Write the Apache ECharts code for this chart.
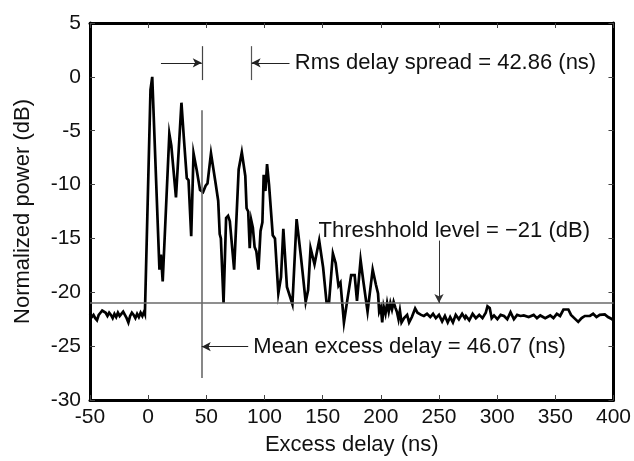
<!DOCTYPE html>
<html>
<head>
<meta charset="utf-8">
<script src="https://cdn.jsdelivr.net/npm/echarts@6/dist/echarts.min.js"></script>
<style>
  html, body { margin: 0; padding: 0; background: #fff; }
  #chart { width: 634px; height: 461px; }
</style>
</head>
<body>
<div id="chart"></div>
<script>
// ---- Data ----
const delayNs = [
  -50, -48.5, -47, -45.5, -44, -42.5, -41, -39.5, -38, -36.5, -35, -33.5, -32, -30.5, -29, -27.5, -26, -24.5, -23, -21.5,
  -20, -18.5, -17, -15.5, -14, -12.5, -11, -9.5, -8, -6.5, -5, -3.5, -2.8,
  2.0, 3.5, 5.0, 9.7, 11.0, 12.5, 18.2, 19.9, 23.9, 28.6, 30.7, 33.2, 34.7, 37.0, 39.0, 41.8, 44.6, 47.2, 49.4, 51.0,
  54.0, 58.0, 60.2, 61.5, 62.5, 64.8, 67.0, 68.7, 70.2, 73.9, 77.8, 80.5, 83.5, 84.6, 86.0, 87.3, 88.6, 90.0, 91.5,
  93.0, 94.8, 96.6, 98.2, 99.3, 100.8, 102.2, 103.9, 107.1, 109.0, 111.9, 114.2, 116.2, 119.3, 124.0, 127.6, 131.2,
  132.8, 135.4, 137.5, 139.6, 143.0, 147.0, 150.4, 153.3, 155.5, 158.8, 161.2, 163.6, 165.3, 168.3, 171.5, 174.5,
  177.5, 179.5, 182.6, 185.0, 188.6, 193.0, 195.8, 197.6, 198.6, 200.0, 201.2, 202.4, 204.0, 205.4, 206.8, 208.2,
  209.6, 211.0, 212.4, 213.8, 215.2, 216.4, 217.8, 220.0, 222.6, 224.3, 226.7, 229.5, 231.5, 234.6, 237.0, 239.7,
  242.5, 244.9, 247.3, 250.0, 252.7, 255.1, 257.5, 259.6, 262.0, 264.4, 267.1, 269.9, 272.3, 273.2, 276, 278.9,
  281.7, 284.6, 287.4, 290.2, 291.7, 293.6, 295.3, 297.3, 300.2, 303, 305.9, 308.7, 311.5, 314.4, 317.2, 320.1,
  322.9, 327.1, 331.4, 334.2, 337.1, 341.3, 345.6, 348.4, 351.3, 354.1, 357, 358.4, 361.2, 363.5, 366.3, 369.7,
  372.6, 375.4, 379.7, 382.5, 385.4, 388.2, 392.5, 395.3, 398.1, 400
];
const powerDb = [
  -22.0, -22.3, -22.1, -22.4, -22.6, -22.1, -21.9, -21.7, -21.6, -21.9, -22.2, -21.9, -22.1, -22.4, -22.0, -22.3, -21.9, -22.2, -22.0, -21.8,
  -22.1, -22.4, -22.8, -22.2, -21.9, -22.1, -22.4, -22.0, -22.3, -21.9, -22.2, -21.8, -22.0,
  -1.2, 0.0, -0.1, -17.9, -16.5, -19.0, -5.3, -6.4, -11.2, -2.4, -5.7, -9.4, -9.6, -14.8, -7.1, -8.7, -10.5, -10.7, -10.1, -9.9,
  -7.1, -9.9, -11.5, -14.6, -15.0, -21.0, -13.1, -12.9, -13.4, -17.9, -8.6, -7.0, -9.2, -12.2, -12.5, -15.9, -13.3, -14.0, -15.8,
  -16.2, -17.9, -14.3, -13.5, -9.1, -10.6, -8.1, -10.0, -14.7, -15.0, -20.1, -18.6, -14.1, -19.5, -21.1, -13.2, -16.6,
  -18.2, -20.9, -19.8, -15.9, -17.4, -15.2, -17.7, -20.9, -20.9, -16.4, -17.3, -19.4, -19.1, -22.8, -20.5, -18.4,
  -18.4, -20.8, -17.0, -19.0, -21.8, -17.9, -19.3, -20.1, -21.8, -21.4, -22.8, -21.3, -22.0, -21.0, -21.8, -21.0,
  -21.6, -20.9, -21.4, -21.8, -22.5, -21.7, -22.8, -22.4, -22.1, -22.8, -22.3, -21.5, -21.9, -22.1, -22.2, -22.0,
  -22.3, -22.0, -22.4, -22.1, -22.7, -22.2, -22.8, -22.3, -22.8, -22.1, -22.5, -22.0, -22.4, -22.2, -22.6, -22.0,
  -22.4, -22.1, -22.4, -21.9, -21.3, -21.45, -22.4, -22.15, -22.5, -22.1, -22.2, -22.5, -21.85, -22.5, -22.1, -22.2,
  -22.15, -22.3, -22.1, -22.4, -22.15, -22.4, -22.15, -22.4, -22.0, -22.2, -21.6, -21.55, -21.6, -22.1, -22.4, -22.75,
  -22.4, -22.2, -22.2, -22.0, -22.3, -22.1, -22.05, -22.3, -22.45, -22.6
];
const xTicks = { min: -50, max: 400, step: 50 };
const yTicks = { min: -30, max: 5, step: 5 };
const thresholdDb = -21;
const meanExcessDelay = 46.07;
const rmsDelaySpread = 42.86;
const labels = {
  rms: 'Rms delay spread = 42.86 (ns)',
  threshold: 'Threshhold level = \u221221 (dB)',
  mean: 'Mean excess delay = 46.07 (ns)',
  xName: 'Excess delay (ns)',
  yName: 'Normalized power (dB)'
};

// ---- Chart ----
const FONT = '"Liberation Sans", Arial, Helvetica, sans-serif';
const chart = echarts.init(document.getElementById('chart'), null, { renderer: 'canvas' });
const curve = delayNs.map((x, i) => [x, powerDb[i]]);
const rmsEnd = meanExcessDelay + rmsDelaySpread;

function seg(a, b, color, width, arrow) {
  return [
    { coord: a, symbol: 'none', lineStyle: { color: color, width: width, type: 'solid' } },
    { coord: b, symbol: arrow ? 'arrow' : 'none', symbolSize: [7, 9] }
  ];
}
function txt(coord, text) {
  return {
    coord: coord, symbol: 'circle', symbolSize: 1,
    itemStyle: { color: 'rgba(0,0,0,0)' },
    label: { show: true, position: 'right', distance: 0, formatter: text,
             color: '#111', fontSize: 22, fontFamily: FONT }
  };
}

const axisLineStyle = { show: true, onZero: false, lineStyle: { color: '#000', width: 3 } };
const tickStyle = { show: true, inside: true, length: 5, lineStyle: { color: '#444', width: 1 } };

chart.setOption({
  animation: false,
  backgroundColor: '#fff',
  grid: { left: 90, right: 15, top: 23, bottom: 56, containLabel: false },
  xAxis: [
    {
      type: 'value', position: 'bottom', min: xTicks.min, max: xTicks.max, interval: xTicks.step,
      name: labels.xName, nameLocation: 'middle', nameGap: 34,
      nameTextStyle: { fontSize: 22, fontFamily: FONT, color: '#111' },
      axisLine: axisLineStyle, axisTick: tickStyle, splitLine: { show: false },
      axisLabel: { fontSize: 21, fontFamily: FONT, color: '#111', margin: 7 }
    },
    {
      type: 'value', position: 'top', min: xTicks.min, max: xTicks.max, interval: xTicks.step,
      axisLine: axisLineStyle, axisTick: tickStyle, splitLine: { show: false },
      axisLabel: { show: false }
    }
  ],
  yAxis: [
    {
      type: 'value', position: 'left', min: yTicks.min, max: yTicks.max, interval: yTicks.step,
      name: labels.yName, nameLocation: 'middle', nameGap: 56, nameRotate: 90,
      nameTextStyle: { fontSize: 22, fontFamily: FONT, color: '#111' },
      axisLine: axisLineStyle, axisTick: tickStyle, splitLine: { show: false },
      axisLabel: { fontSize: 21, fontFamily: FONT, color: '#111', margin: 9 }
    },
    {
      type: 'value', position: 'right', min: yTicks.min, max: yTicks.max, interval: yTicks.step,
      axisLine: axisLineStyle, axisTick: tickStyle, splitLine: { show: false },
      axisLabel: { show: false }
    }
  ],
  series: [
    {
      type: 'line', data: curve, showSymbol: false, symbol: 'none', smooth: false,
      lineStyle: { color: '#000', width: 2.7, join: 'miter' }, z: 3,
      silent: true
    },
    {
      type: 'line', data: [], silent: true, z: 2,
      markLine: {
        silent: true, animation: false, symbol: 'none',
        label: { show: false },
        emphasis: { disabled: true },
        data: [
          seg([xTicks.min, thresholdDb], [xTicks.max, thresholdDb], '#6a6a6a', 1.6, false),
          seg([meanExcessDelay, -3.1], [meanExcessDelay, -27.95], '#6a6a6a', 1.6, false),
          seg([meanExcessDelay, 2.85], [meanExcessDelay, -0.3], '#444', 1.2, false),
          seg([rmsEnd, 2.85], [rmsEnd, -0.3], '#555', 1.2, false),
          seg([11, 1.3], [meanExcessDelay, 1.3], '#222', 1, true),
          seg([121.5, 1.3], [rmsEnd, 1.3], '#222', 1, true),
          seg([250, -15.2], [250, thresholdDb], '#333', 1, true),
          seg([86, -25.05], [meanExcessDelay, -25.05], '#222', 1, true)
        ]
      },
      markPoint: {
        silent: true, animation: false,
        data: [
          txt([125.6, 1.3], labels.rms),
          txt([146, -14.3], labels.threshold),
          txt([90, -25.05], labels.mean)
        ]
      }
    }
  ]
});
</script>
</body>
</html>
